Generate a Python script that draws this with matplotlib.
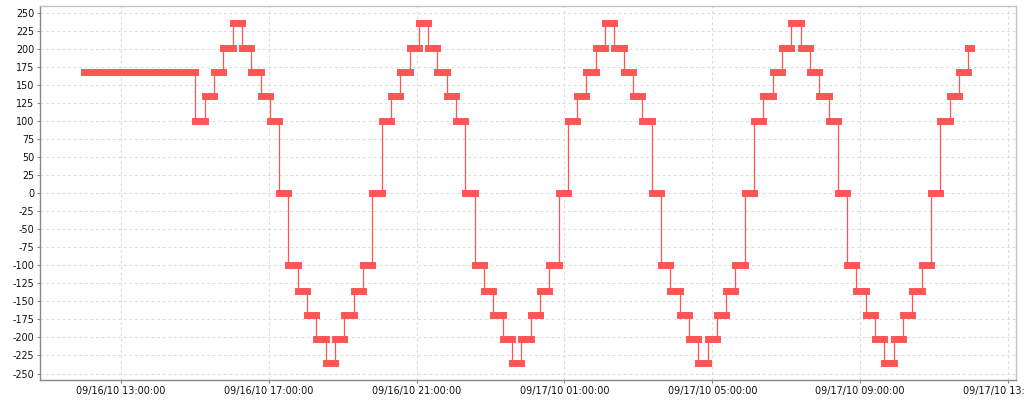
import pandas as pd
import matplotlib
matplotlib.use('Agg')
import matplotlib.pyplot as plt
import matplotlib.dates as mdates
from matplotlib.collections import LineCollection

# first reading holds for three hours, then readings come roughly every 15 minutes
start_time = pd.Timestamp('2010-09-16 12:00:00')
first_step = pd.Timestamp('2010-09-16 15:00:45')
step_seconds = 907
last_hold = pd.Timedelta(minutes=5)

first_value = [169]
step_values = [
    100, 135, 169, 202, 236, 202, 169, 135, 100, 0,
    -100, -135, -169, -202, -236, -202, -169, -135, -100, 0,
    100, 135, 169, 202, 236, 202, 169, 135, 100, 0,
    -100, -135, -169, -202, -236, -202, -169, -135, -100, 0,
    100, 135, 169, 202, 236, 202, 169, 135, 100, 0,
    -100, -135, -169, -202, -236, -202, -169, -135, -100, 0,
    100, 135, 169, 202, 236, 202, 169, 135, 100, 0,
    -100, -135, -169, -202, -236, -202, -169, -135, -100, 0,
    100, 135, 169, 202,
]
y_ticks = list(range(-250, 251, 25))

values = first_value + step_values
step_times = pd.date_range(first_step, periods=len(step_values), freq=f'{step_seconds}s')
times = [start_time] + list(step_times) + [step_times[-1] + last_hold]
t = mdates.date2num(times)

RED = '#ff5555'

fig = plt.figure(figsize=(10.24, 4.0), dpi=100)
ax = fig.add_axes([40 / 1024, 20 / 400, 976 / 1024, 374 / 400])

# thick horizontal part of each step
segs = [[(t[i], values[i]), (t[i + 1], values[i])] for i in range(len(values))]
lc = LineCollection(segs, colors=RED, linewidths=5.0, capstyle='projecting', zorder=3)
ax.add_collection(lc)
# thin vertical risers
ax.vlines(t[1:len(values)], values[:-1], values[1:], colors=RED, linewidth=0.9, zorder=3)

ax.set_xlim(mdates.date2num(pd.Timestamp('2010-09-16 10:48:30')),
            mdates.date2num(pd.Timestamp('2010-09-17 13:13:00')))
ax.set_ylim(-259, 260)
ax.set_yticks(y_ticks)
ax.set_yticklabels([str(v) for v in y_ticks])

ax.xaxis.set_major_locator(mdates.HourLocator(byhour=[1, 5, 9, 13, 17, 21]))
ax.xaxis.set_major_formatter(mdates.DateFormatter('%m/%d/%y %H:%M:%S'))

ax.grid(True, color='#dcdcdc', linestyle=(0, (2.5, 2.5)), linewidth=0.8)
ax.set_axisbelow(True)

for side in ['left', 'bottom']:
    ax.spines[side].set_color('#888888')
    ax.spines[side].set_linewidth(1.0)
for side in ['top', 'right']:
    ax.spines[side].set_color('#c4c4c4')
    ax.spines[side].set_linewidth(1.0)

ax.tick_params(axis='both', direction='out', length=2, width=0.8, color='#888888',
               labelsize=6.9, labelcolor='#111111', pad=2)

fig.savefig('out.png', dpi=100)
